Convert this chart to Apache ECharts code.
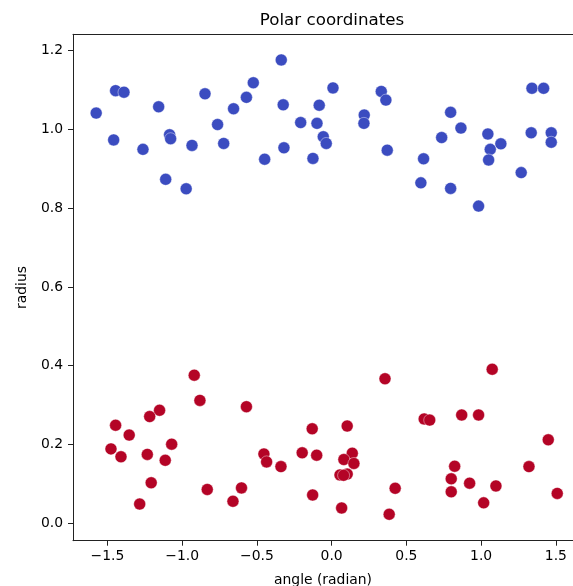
<!DOCTYPE html>
<html>
<head>
<meta charset="utf-8">
<script src="https://cdn.jsdelivr.net/npm/echarts@6/dist/echarts.min.js"></script>
<style>
  html, body { margin: 0; padding: 0; background: #fff; }
  #chart { width: 573px; height: 586px; }
</style>
</head>
<body>
<div id="chart"></div>
<script>
// points near radius 1 (blue) : [angle, radius]
const bluePoints = [
  [-1.575, 1.041], [-1.445, 1.098], [-1.389, 1.094], [-1.458, 0.973], [-1.262, 0.949],
  [-1.157, 1.057], [-1.084, 0.986], [-1.077, 0.976], [-1.110, 0.873], [-0.973, 0.849],
  [-0.934, 0.959], [-0.847, 1.090], [-0.763, 1.012], [-0.722, 0.964], [-0.656, 1.052],
  [-0.570, 1.081], [-0.337, 1.176], [-0.524, 1.118], [-0.324, 1.062], [-0.083, 1.061],
  [0.009, 1.105], [-0.207, 1.017], [-0.098, 1.015], [-0.056, 0.981], [-0.036, 0.964],
  [-0.319, 0.953], [-0.448, 0.924], [-0.125, 0.926], [0.218, 1.036], [0.216, 1.015],
  [0.332, 1.096], [0.363, 1.074], [0.372, 0.947], [0.796, 1.043], [0.865, 1.003],
  [0.736, 0.979], [0.615, 0.925], [0.597, 0.864], [0.796, 0.850], [0.983, 0.805],
  [1.045, 0.988], [1.132, 0.963], [1.061, 0.949], [1.050, 0.922], [1.268, 0.890],
  [1.340, 1.104], [1.418, 1.104], [1.335, 0.991], [1.469, 0.991], [1.469, 0.967]
];
// points near radius 0.2 (red)
const redPoints = [
  [-0.919, 0.376], [-0.881, 0.312], [-1.151, 0.287], [-1.217, 0.271], [-1.445, 0.249],
  [-1.354, 0.224], [-1.476, 0.189], [-1.409, 0.169], [-1.233, 0.175], [-1.070, 0.201],
  [-1.113, 0.160], [-1.207, 0.103], [-1.284, 0.049], [-0.832, 0.086], [-0.660, 0.056],
  [-0.603, 0.090], [-0.570, 0.296], [0.357, 0.367], [-0.130, 0.240], [0.104, 0.247],
  [-0.453, 0.176], [-0.435, 0.156], [-0.339, 0.144], [-0.197, 0.179], [-0.100, 0.173],
  [0.138, 0.178], [0.082, 0.162], [0.149, 0.152], [0.056, 0.123], [0.104, 0.125],
  [0.080, 0.122], [-0.127, 0.072], [0.067, 0.039], [0.425, 0.089], [0.385, 0.023],
  [1.074, 0.391], [0.619, 0.265], [0.656, 0.262], [0.870, 0.275], [0.983, 0.275],
  [1.449, 0.212], [0.823, 0.145], [1.320, 0.144], [0.800, 0.113], [0.923, 0.102],
  [1.099, 0.095], [0.800, 0.080], [1.017, 0.052], [1.509, 0.076]
];
const xTicks = [-1.5, -1.0, -0.5, 0.0, 0.5, 1.0, 1.5];
const yTicks = [0.0, 0.2, 0.4, 0.6, 0.8, 1.0, 1.2];

const blueColor = '#3b4cc0';
const redColor = '#b40426';
const font = 'DejaVu Sans';
const fmt = v => v.toFixed(1).replace('-', '\u2212');

let chart = echarts.init(document.getElementById('chart'), null, { renderer: 'canvas' });
chart.setOption({
  animation: false,
  backgroundColor: '#fff',
  title: {
    text: 'Polar coordinates',
    left: 327, top: 7, textAlign: 'center',
    textStyle: { fontFamily: font, fontSize: 16.7, fontWeight: 'normal', color: '#000' }
  },
  grid: { left: 73, right: 0, top: 34.3, bottom: 45.3, outerBoundsMode: 'none', containLabel: false },
  xAxis: [{
    type: 'value', min: -1.73, max: 1.6145,
    name: 'angle (radian)', nameLocation: 'middle', nameGap: 33,
    nameTextStyle: { fontFamily: font, fontSize: 13.9, color: '#000' },
    axisLine: { onZero: false, lineStyle: { color: '#222', width: 1 } },
    axisTick: { show: true, length: 5, customValues: xTicks, lineStyle: { color: '#222' } },
    axisLabel: { customValues: xTicks, formatter: fmt, margin: 9, fontFamily: font, fontSize: 13.9, color: '#000' },
    splitLine: { show: false }
  }, {
    // top spine only
    type: 'value', position: 'top', min: -1.73, max: 1.6145,
    axisLine: { show: true, onZero: false, lineStyle: { color: '#222', width: 1 } },
    axisTick: { show: false }, axisLabel: { show: false }, splitLine: { show: false }
  }],
  yAxis: {
    type: 'value', min: -0.044, max: 1.241,
    name: 'radius', nameLocation: 'middle', nameGap: 44, nameRotate: 90,
    nameTextStyle: { fontFamily: font, fontSize: 13.9, color: '#000' },
    axisLine: { show: true, onZero: false, lineStyle: { color: '#222', width: 1 } },
    axisTick: { show: true, length: 5, customValues: yTicks, lineStyle: { color: '#222' } },
    axisLabel: { customValues: yTicks, formatter: fmt, margin: 10, fontFamily: font, fontSize: 13.9, color: '#000' },
    splitLine: { show: false }
  },
  series: [
    {
      type: 'scatter', data: bluePoints, symbolSize: 12,
      itemStyle: { color: blueColor, opacity: 1, borderColor: 'rgba(255,255,255,0.6)', borderWidth: 0.7 }
    },
    {
      type: 'scatter', data: redPoints, symbolSize: 12,
      itemStyle: { color: redColor, opacity: 1, borderColor: 'rgba(255,255,255,0.6)', borderWidth: 0.7 }
    }
  ]
});
</script>
</body>
</html>
